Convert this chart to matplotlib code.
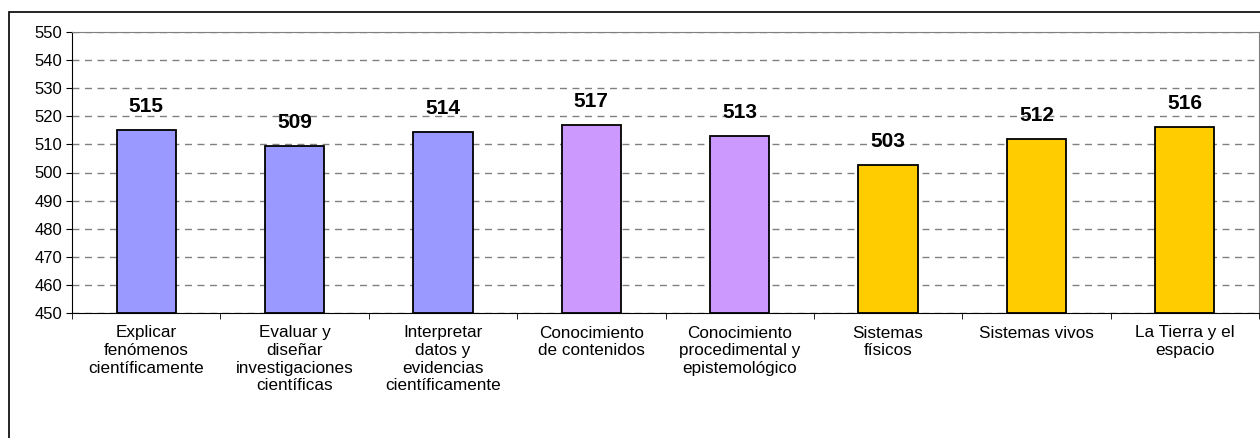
import numpy as np
import matplotlib.pyplot as plt
from matplotlib.patches import Rectangle

plt.rcParams['font.family'] = ['Liberation Sans', 'DejaVu Sans']

categories = [
    "Explicar\nfenómenos\ncientíficamente",
    "Evaluar y\ndiseñar\ninvestigaciones\ncientíficas",
    "Interpretar\ndatos y\nevidencias\ncientíficamente",
    "Conocimiento\nde contenidos",
    "Conocimiento\nprocedimental y\nepistemológico",
    "Sistemas\nfísicos",
    "Sistemas vivos",
    "La Tierra y el\nespacio",
]
scores = [515.0, 509.4, 514.3, 517.0, 512.9, 502.6, 511.9, 516.2]
score_labels = ["515", "509", "514", "517", "513", "503", "512", "516"]
bar_colors = ["#9999FF", "#9999FF", "#9999FF", "#CC99FF", "#CC99FF",
              "#FFCC00", "#FFCC00", "#FFCC00"]
yticks = list(range(450, 551, 10))

W, H = 1260, 438
fig = plt.figure(figsize=(W / 100, H / 100), dpi=100)
ax = fig.add_axes([72 / W, 1 - 313 / H, (1259 - 72) / W, (313 - 32) / H])

# outer chart border (cut off at right/bottom like the original)
fig.patches.append(Rectangle((9 / W, -0.05), 1.1, 1 - 12 / H + 0.05,
                             transform=fig.transFigure, fill=False,
                             edgecolor="black", linewidth=1.2))

x = np.arange(len(categories))
bars = ax.bar(x, np.array(scores) - 450, bottom=450, width=0.4,
              color=bar_colors, edgecolor="black", linewidth=1.3, zorder=3)

for b, lab in zip(bars, score_labels):
    ax.annotate(lab, (b.get_x() + b.get_width() / 2, b.get_y() + b.get_height()),
                xytext=(0, 10), textcoords="offset points",
                ha="center", va="bottom", fontsize=15, fontweight="bold")

ax.set_xlim(-0.5, len(categories) - 0.5)
ax.set_ylim(450, 550)
ax.set_yticks(yticks)
ax.tick_params(axis="y", direction="out", length=4, labelsize=12, pad=3)
ax.yaxis.grid(True, linestyle=(0, (5, 4)), color="#808080", linewidth=1, zorder=0)

ax.set_xticks(x)
ax.set_xticklabels(categories, fontsize=12.3, linespacing=1.22)
ax.tick_params(axis="x", which="major", length=0, pad=9)
ax.set_xticks(np.arange(-0.5, len(categories) + 0.5, 1), minor=True)
ax.tick_params(axis="x", which="minor", direction="out", length=4)

for side in ["top", "right"]:
    ax.spines[side].set_color("#808080")
for side in ["left", "bottom"]:
    ax.spines[side].set_color("black")

fig.savefig("out.png", dpi=100)
